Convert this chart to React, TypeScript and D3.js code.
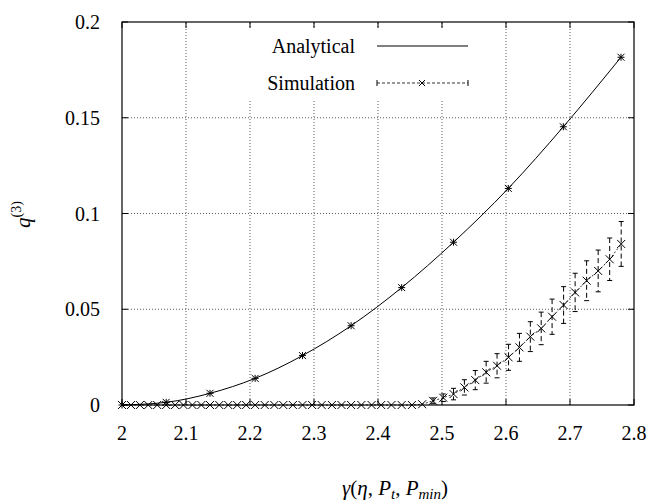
import React from 'react';
import * as d3 from 'd3';

// analytical curve
const anaX = [2.0, 2.069, 2.1375, 2.208, 2.282, 2.358, 2.437, 2.518, 2.6036, 2.6896, 2.7797];
const anaY = [0, 0.0014, 0.0061, 0.0139, 0.0258, 0.0414, 0.0613, 0.085, 0.1131, 0.1453, 0.1816];

// simulation points with error bars
const simX = [
  2.0, 2.014, 2.028, 2.041, 2.055, 2.069,
  2.083, 2.096, 2.11, 2.124, 2.1375,
  2.152, 2.166, 2.18, 2.194, 2.208,
  2.223, 2.238, 2.252, 2.267, 2.282,
  2.297, 2.312, 2.328, 2.343, 2.358,
  2.374, 2.39, 2.405, 2.421, 2.437,
  2.453, 2.469, 2.486, 2.502, 2.518,
  2.535, 2.552, 2.569, 2.586, 2.604,
  2.621, 2.638, 2.655, 2.672, 2.69,
  2.708, 2.726, 2.744, 2.762, 2.78,
];
const simY = [
  0, 0, 0, 0, 0, 0,
  0, 0, 0, 0, 0,
  0, 0, 0, 0, 0,
  0, 0, 0, 0, 0,
  0, 0, 0, 0, 0,
  0, 0, 0, 0, 0,
  0, 0.0004, 0.0022, 0.0038, 0.0057,
  0.0092, 0.013, 0.0171, 0.0205, 0.0249,
  0.0301, 0.0357, 0.04, 0.0461, 0.0522,
  0.0588, 0.0649, 0.07, 0.0761, 0.0841,
];
const simErr = [
  0, 0, 0, 0, 0, 0,
  0, 0, 0, 0, 0,
  0, 0, 0, 0, 0,
  0, 0, 0, 0, 0,
  0, 0, 0, 0, 0,
  0, 0, 0, 0, 0,
  0, 0.0005, 0.0015, 0.002, 0.003,
  0.004, 0.005, 0.0057, 0.0063, 0.0068,
  0.0073, 0.0078, 0.0085, 0.0092, 0.0096,
  0.01, 0.0104, 0.0109, 0.0111, 0.0117,
];

const xTicks = [2, 2.1, 2.2, 2.3, 2.4, 2.5, 2.6, 2.7, 2.8];
const yTicks = [0, 0.05, 0.1, 0.15, 0.2];
const yTickLabels = ['0', '0.05', '0.1', '0.15', '0.2'];

const W = 652;
const H = 504;
const FONT = "'Liberation Serif', 'DejaVu Serif', 'Times New Roman', serif";

export default function App() {
  const x = d3.scaleLinear().domain([2, 2.8]).range([122, 634]);
  const y = d3.scaleLinear().domain([0, 0.2]).range([405, 22]);

  const anaLine = d3.line<number>()
    .x((d, i) => x(anaX[i]))
    .y((d) => y(d))
    .curve(d3.curveMonotoneX)(anaY) || '';

  const simLine = d3.line<number>()
    .x((d, i) => x(simX[i]))
    .y((d) => y(d))(simY) || '';

  const star = (cx: number, cy: number, s: number, key: string) => (
    <g key={key} stroke="#000" strokeWidth={1}>
      <line x1={cx - s} y1={cy} x2={cx + s} y2={cy} />
      <line x1={cx} y1={cy - s} x2={cx} y2={cy + s} />
      <line x1={cx - s} y1={cy - s} x2={cx + s} y2={cy + s} />
      <line x1={cx - s} y1={cy + s} x2={cx + s} y2={cy - s} />
    </g>
  );
  const cross = (cx: number, cy: number, s: number, key: string) => (
    <g key={key} stroke="#000" strokeWidth={1}>
      <line x1={cx - s} y1={cy - s} x2={cx + s} y2={cy + s} />
      <line x1={cx - s} y1={cy + s} x2={cx + s} y2={cy - s} />
    </g>
  );

  const [x0, x1] = x.range();
  const [y0, y1] = y.range();

  return (
    <svg width={W} height={H} style={{ position: 'absolute', left: 0, top: 0, background: '#fff', fontFamily: FONT }}>
      <rect x={0} y={0} width={W} height={H} fill="#fff" />
      {/* grid */}
      <g stroke="#333" strokeWidth={0.8} strokeDasharray="1,2">
        {xTicks.slice(1, -1).map((t) => (
          <line key={'gx' + t} x1={x(t)} x2={x(t)} y1={y0} y2={y1} />
        ))}
        {yTicks.slice(1, -1).map((t) => (
          <line key={'gy' + t} x1={x0} x2={x1} y1={y(t)} y2={y(t)} />
        ))}
      </g>
      {/* legend background */}
      <rect x={200} y={29} width={278} height={72} fill="#fff" />

      {/* frame and ticks */}
      <rect x={x0} y={y1} width={x1 - x0} height={y0 - y1} fill="none" stroke="#000" strokeWidth={1.2} />
      <g stroke="#000" strokeWidth={1}>
        {xTicks.map((t) => (
          <g key={'tx' + t}>
            <line x1={x(t)} x2={x(t)} y1={y0} y2={y0 - 6} />
            <line x1={x(t)} x2={x(t)} y1={y1} y2={y1 + 6} />
          </g>
        ))}
        {yTicks.map((t) => (
          <g key={'ty' + t}>
            <line x1={x0} x2={x0 + 6} y1={y(t)} y2={y(t)} />
            <line x1={x1} x2={x1 - 6} y1={y(t)} y2={y(t)} />
          </g>
        ))}
      </g>
      <g fontSize={20} fill="#000">
        {xTicks.map((t) => (
          <text key={'lx' + t} x={x(t)} y={440} textAnchor="middle">{String(t)}</text>
        ))}
        {yTicks.map((t, i) => (
          <text key={'ly' + t} x={100} y={y(t) + 7} textAnchor="end">{yTickLabels[i]}</text>
        ))}
      </g>

      {/* analytical */}
      <path d={anaLine} fill="none" stroke="#000" strokeWidth={1} />
      {anaY.map((d, i) => star(x(anaX[i]), y(d), 3.5, 'a' + i))}

      {/* simulation */}
      <path d={simLine} fill="none" stroke="#000" strokeWidth={0.8} strokeDasharray="2,2" />
      <g stroke="#000" strokeWidth={1}>
        {simY.map((d, i) => simErr[i] > 0.0008 ? (
          <g key={'e' + i}>
            <line x1={x(simX[i])} x2={x(simX[i])} y1={y(d + simErr[i])} y2={y(d - simErr[i])} strokeDasharray="5,3" />
            <line x1={x(simX[i]) - 2.5} x2={x(simX[i]) + 2.5} y1={y(d + simErr[i])} y2={y(d + simErr[i])} />
            <line x1={x(simX[i]) - 2.5} x2={x(simX[i]) + 2.5} y1={y(d - simErr[i])} y2={y(d - simErr[i])} />
          </g>
        ) : null)}
      </g>
      {simY.map((d, i) => cross(x(simX[i]), y(d), 4, 's' + i))}

      {/* legend */}
      <g fontSize={20} fill="#000">
        <text x={355} y={53} textAnchor="end">Analytical</text>
        <text x={355} y={90} textAnchor="end">Simulation</text>
      </g>
      <line x1={377} x2={468} y1={46} y2={46} stroke="#000" strokeWidth={1} />
      <line x1={377} x2={468} y1={83} y2={83} stroke="#000" strokeWidth={0.8} strokeDasharray="3,2" />
      <line x1={377} x2={377} y1={80} y2={86} stroke="#000" strokeWidth={1} />
      <line x1={468} x2={468} y1={80} y2={86} stroke="#000" strokeWidth={1} />
      {cross(422, 83, 3, 'lg')}

      {/* axis labels */}
      <text x={395} y={495} textAnchor="middle" fontSize={21} fill="#000">
        <tspan fontStyle="italic">γ</tspan>
        <tspan>(</tspan>
        <tspan fontStyle="italic">η</tspan>
        <tspan>, </tspan>
        <tspan fontStyle="italic">P</tspan>
        <tspan fontStyle="italic" fontSize={15} dy={4}>t</tspan>
        <tspan dy={-4}>, </tspan>
        <tspan fontStyle="italic">P</tspan>
        <tspan fontStyle="italic" fontSize={15} dy={4}>min</tspan>
        <tspan dy={-4}>)</tspan>
      </text>
      <text transform="translate(30,228) rotate(-90)" fontSize={21} fill="#000">
        <tspan fontStyle="italic">q</tspan>
        <tspan fontSize={14} dy={-9}>(3)</tspan>
      </text>
    </svg>
  );
}
